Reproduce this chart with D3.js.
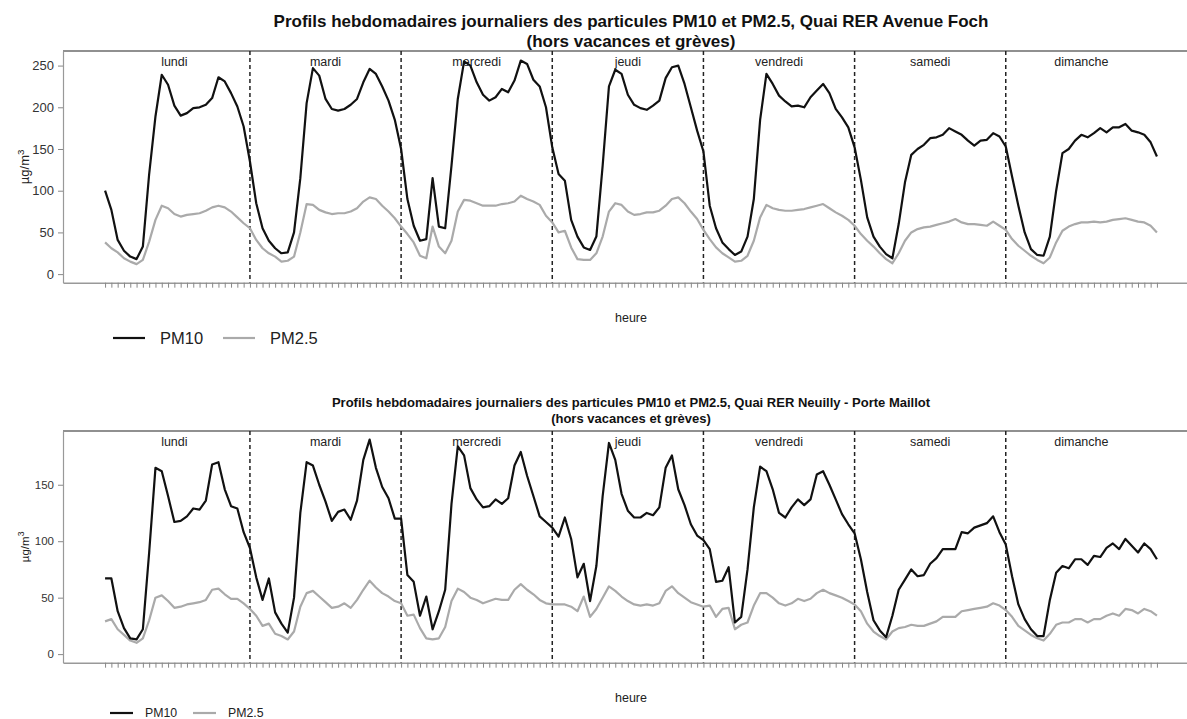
<!DOCTYPE html>
<html>
<head>
<meta charset="utf-8">
<script src="https://cdn.jsdelivr.net/npm/d3@7"></script>
<style>
  body { margin: 0; background: #fff; }
  svg { display: block; font-family: "Liberation Sans", Arial, sans-serif; }
</style>
</head>
<body>
<div id="chart"></div>
<script>
/// DATA

const jours = ["lundi", "mardi", "mercredi", "jeudi", "vendredi", "samedi", "dimanche"]
const heures = d3.range(1, 169)
const yTicks = [0, 50, 100, 150, 200, 250]
const yTicksBas = [0, 50, 100, 150]

// Quai RER Avenue Foch
const pm10Foch = [
  100, 77, 41, 28, 21, 18, 33, 120, 189, 239, 227, 202, 190, 193, 199, 200, 203, 211, 236, 231, 217, 201, 177, 135,
  85, 55, 40, 31, 25, 26, 50, 115, 205, 247, 238, 210, 198, 196, 198, 203, 210, 230, 246, 240, 225, 208, 185, 150,
  90, 58, 40, 42, 115, 57, 55, 130, 210, 255, 250, 230, 215, 208, 212, 222, 218, 232, 256, 252, 233, 225, 200, 152,
  120, 112, 65, 45, 32, 29, 45, 130, 225, 245, 240, 215, 203, 199, 197, 202, 208, 235, 248, 250, 228, 200, 172, 147,
  82, 55, 38, 30, 23, 27, 45, 90, 185, 240, 228, 214, 207, 201, 202, 200, 212, 220, 228, 217, 198, 188, 176, 152,
  113, 68, 45, 33, 24, 19, 60, 110, 143, 150, 155, 163, 164, 167, 175, 171, 167, 160, 154, 160, 161, 169, 165, 153,
  117, 82, 50, 30, 23, 22, 45, 100, 145, 150, 160, 167, 164, 169, 175, 170, 176, 176, 180, 172, 170, 167, 158, 141,
]
const pm25Foch = [
  38, 31, 26, 19, 15, 12, 17, 39, 65, 82, 79, 72, 69, 71, 72, 73, 76, 80, 82, 80, 75, 68, 61, 55,
  41, 31, 25, 21, 15, 16, 21, 50, 84, 83, 77, 74, 72, 73, 73, 75, 79, 87, 92, 90, 82, 75, 67, 57,
  48, 38, 22, 19, 57, 33, 25, 40, 75, 89, 88, 85, 82, 82, 82, 84, 85, 87, 94, 90, 87, 83, 70, 62,
  50, 52, 32, 18, 17, 17, 25, 45, 75, 85, 83, 75, 71, 72, 74, 74, 76, 82, 90, 92, 85, 75, 66, 53,
  42, 32, 25, 20, 15, 16, 22, 40, 68, 83, 79, 77, 76, 76, 77, 78, 80, 82, 84, 79, 74, 70, 65, 58,
  48, 40, 33, 25, 18, 13, 25, 40, 50, 54, 56, 57, 59, 61, 63, 66, 62, 60, 60, 59, 58, 63, 58, 53,
  42, 34, 28, 22, 17, 13, 20, 38, 52, 57, 60, 62, 62, 63, 62, 63, 65, 66, 67, 65, 63, 62, 58, 50,
]

// Quai RER Neuilly - Porte Maillot
const pm10Maillot = [
  67, 67, 38, 23, 14, 13, 22, 90, 165, 162, 140, 117, 118, 122, 129, 128, 136, 168, 170, 146, 131, 129, 108, 94,
  68, 48, 67, 37, 27, 19, 50, 125, 170, 167, 150, 135, 118, 126, 128, 119, 136, 172, 190, 165, 148, 138, 120, 120,
  70, 64, 34, 51, 22, 38, 57, 133, 184, 176, 147, 137, 130, 131, 137, 133, 138, 167, 179, 158, 140, 122, 117, 112,
  104, 121, 102, 68, 80, 47, 78, 140, 187, 172, 142, 127, 121, 121, 125, 123, 130, 165, 176, 146, 132, 115, 105, 101,
  93, 64, 65, 77, 28, 33, 75, 130, 166, 162, 146, 125, 121, 130, 137, 132, 137, 159, 162, 150, 137, 124, 115, 107,
  84, 55, 30, 21, 15, 34, 57, 66, 75, 69, 70, 80, 85, 93, 93, 93, 108, 107, 112, 114, 116, 122, 108, 97,
  69, 44, 31, 22, 16, 16, 48, 72, 78, 76, 84, 84, 79, 87, 86, 94, 98, 93, 102, 96, 90, 98, 93, 84,
]
const pm25Maillot = [
  29, 31, 22, 17, 12, 10, 14, 30, 50, 52, 47, 41, 42, 44, 45, 46, 48, 57, 58, 53, 49, 49, 45, 40,
  34, 25, 27, 18, 16, 13, 20, 42, 54, 56, 51, 46, 41, 42, 45, 41, 48, 57, 65, 59, 54, 51, 47, 45,
  34, 35, 23, 14, 13, 14, 24, 47, 58, 55, 50, 48, 45, 47, 49, 48, 48, 57, 62, 57, 53, 48, 45, 44,
  44, 44, 42, 38, 51, 33, 40, 50, 60, 56, 51, 47, 44, 43, 44, 43, 45, 56, 60, 54, 50, 46, 44, 42,
  43, 33, 40, 41, 22, 26, 28, 43, 54, 54, 50, 45, 43, 45, 49, 47, 49, 54, 57, 54, 52, 50, 47, 44,
  38, 27, 20, 16, 13, 20, 23, 24, 26, 25, 25, 27, 29, 33, 33, 33, 38, 39, 40, 41, 42, 45, 43, 39,
  33, 25, 21, 17, 14, 12, 18, 26, 28, 28, 31, 31, 28, 31, 31, 34, 36, 34, 40, 39, 36, 40, 38, 34,
]

/// LAYOUT

const width = 1187
const height = 719

const svg = d3
  .select("#chart")
  .append("svg")
  .attr("width", width)
  .attr("height", height)

svg.append("rect").attr("width", width).attr("height", height).attr("fill", "#fff")

// R style 4% padding around 1..168
const xScale = d3.scaleLinear().domain([-5.68, 174.68]).range([63, 1199])

function drawPanel(p) {
  const yScale = d3
    .scaleLinear()
    .domain([-0.04 * p.yMax, 1.04 * p.yMax])
    .range([p.bottom, p.top])

  const g = svg.append("g")

  // titre
  p.title.forEach((t, i) => {
    g.append("text")
      .attr("x", 631)
      .attr("y", p.titleY + i * p.titleGap)
      .attr("text-anchor", "middle")
      .style("font-weight", "bold")
      .style("font-size", p.titleSize + "px")
      .attr("fill", "#111")
      .text(t)
  })

  // cadre haut
  g.append("line")
    .attr("x1", 63).attr("x2", width)
    .attr("y1", p.top).attr("y2", p.top)
    .attr("stroke", "#222").attr("stroke-width", 1.2)

  // separateurs de jours
  g.selectAll(".sep")
    .data(d3.range(24, 168, 24))
    .join("line")
    .attr("x1", (d) => xScale(d)).attr("x2", (d) => xScale(d))
    .attr("y1", p.top).attr("y2", p.bottom)
    .attr("stroke", "#222")
    .attr("stroke-width", 1.5)
    .attr("stroke-dasharray", "4,3")

  // noms des jours
  g.selectAll(".jour")
    .data(jours)
    .join("text")
    .attr("x", (d, i) => xScale(12 + 24 * i))
    .attr("y", p.top + 15)
    .attr("text-anchor", "middle")
    .style("font-size", "12.5px")
    .attr("fill", "#222")
    .text((d) => d)

  const xAxis = g
    .append("g")
    .attr("transform", `translate(0,${p.bottom})`)
    .call(d3.axisBottom(xScale).tickValues(heures).tickFormat("").tickSizeInner(5).tickSizeOuter(0))
  xAxis.select(".domain").attr("stroke", "#999").attr("stroke-width", 1.6)
  xAxis.selectAll(".tick line").attr("stroke", "#888")

  const yAxis = g
    .append("g")
    .attr("transform", "translate(63,0)")
    .call(d3.axisLeft(yScale).tickValues(p.ticks).tickSizeInner(5).tickSizeOuter(0).tickPadding(4))
  yAxis.select(".domain").attr("stroke", "#999").attr("stroke-width", 1.2)
  yAxis.selectAll(".tick line").attr("stroke", "#888")
  yAxis.selectAll(".tick text")
    .attr("fill", "#333")
    .style("font-size", p.tickSize + "px")
    .style("font-family", "'Liberation Sans', Arial, sans-serif")

  // label y
  const ylab = g.append("text")
    .attr("transform", `translate(29,${(p.top + p.bottom) / 2}) rotate(-90)`)
    .attr("text-anchor", "middle")
    .style("font-size", p.tickSize + "px")
    .attr("fill", "#222")
  ylab.append("tspan").text("µg/m")
  ylab.append("tspan").attr("dy", -5).style("font-size", p.tickSize * 0.75 + "px").text("3")

  // label x
  g.append("text")
    .attr("x", 631)
    .attr("y", p.bottom + 39)
    .attr("text-anchor", "middle")
    .style("font-size", "12.5px")
    .attr("fill", "#222")
    .text("heure")

  const lineGenerator = d3
    .line()
    .x((d, i) => xScale(heures[i]))
    .y((d) => yScale(d))

  g.append("path")
    .attr("d", lineGenerator(p.pm25))
    .attr("fill", "none")
    .attr("stroke", "#aaaaaa")
    .attr("stroke-width", 2.2)
    .attr("stroke-linejoin", "round")

  g.append("path")
    .attr("d", lineGenerator(p.pm10))
    .attr("fill", "none")
    .attr("stroke", "#111")
    .attr("stroke-width", 2.2)
    .attr("stroke-linejoin", "round")

  // legende
  const lg = p.legend
  const items = [
    { name: "PM10", color: "#111", x: lg.x1 },
    { name: "PM2.5", color: "#aaaaaa", x: lg.x2 },
  ]
  items.forEach((it) => {
    g.append("line")
      .attr("x1", it.x).attr("x2", it.x + lg.len)
      .attr("y1", lg.y).attr("y2", lg.y)
      .attr("stroke", it.color).attr("stroke-width", 2.2)
    g.append("text")
      .attr("x", it.x + lg.len + lg.gap)
      .attr("y", lg.y)
      .attr("dy", "0.35em")
      .style("font-size", lg.size + "px")
      .attr("fill", "#222")
      .text(it.name)
  })
}

drawPanel({
  title: [
    "Profils hebdomadaires journaliers des particules PM10 et PM2.5, Quai RER Avenue Foch",
    "(hors vacances et grèves)",
  ],
  titleY: 27, titleGap: 20, titleSize: 17,
  top: 51, bottom: 282.7, yMax: 257.2, ticks: yTicks, tickSize: 13,
  pm10: pm10Foch, pm25: pm25Foch,
  legend: { x1: 113, x2: 223, y: 338, len: 32, gap: 15, size: 16.5 },
})

drawPanel({
  title: [
    "Profils hebdomadaires journaliers des particules PM10 et PM2.5, Quai RER Neuilly - Porte Maillot",
    "(hors vacances et grèves)",
  ],
  titleY: 407, titleGap: 16, titleSize: 13,
  top: 431, bottom: 662.7, yMax: 190, ticks: yTicksBas, tickSize: 11.5,
  pm10: pm10Maillot, pm25: pm25Maillot,
  legend: { x1: 110, x2: 193, y: 713, len: 23, gap: 12, size: 12.3 },
})
</script>
</body>
</html>
